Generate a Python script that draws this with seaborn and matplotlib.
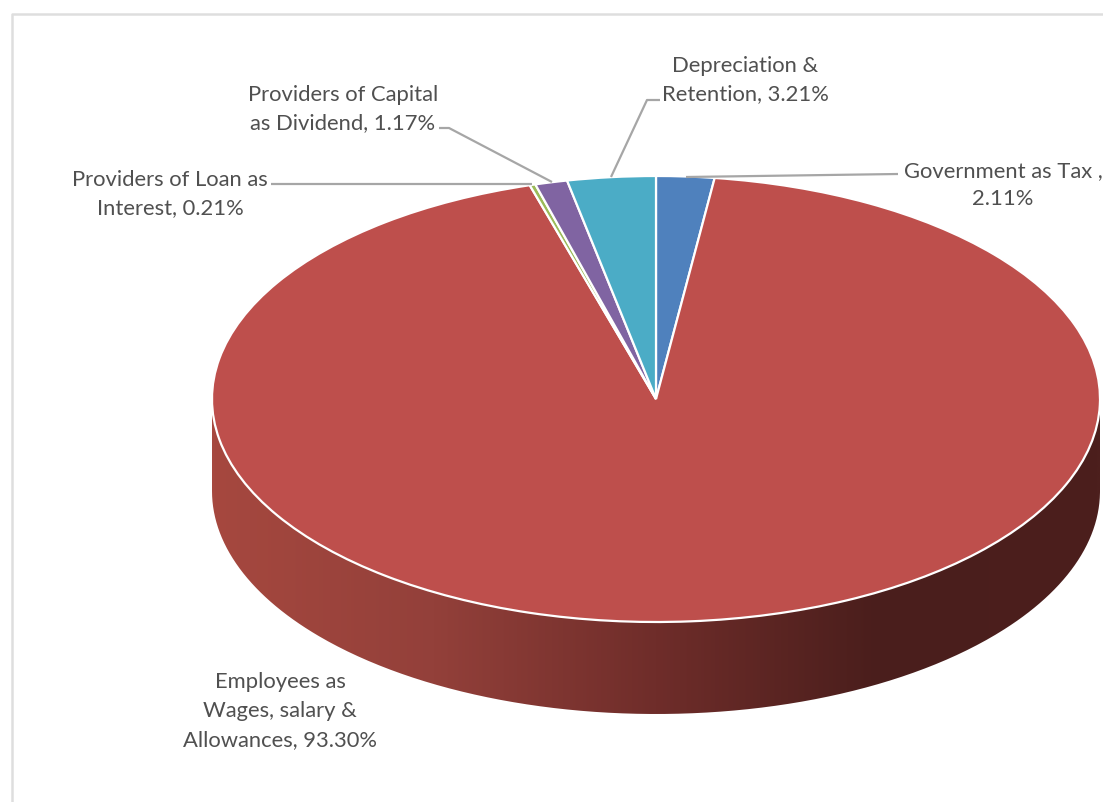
import numpy as np
import matplotlib
matplotlib.use("Agg")
import matplotlib.pyplot as plt
from matplotlib.patches import PathPatch
from matplotlib.path import Path
from matplotlib.lines import Line2D
import seaborn as sns

# ---- data ----
categories = ["Government as Tax", "Employees as Wages, salary & Allowances",
              "Providers of Loan as Interest", "Providers of Capital as Dividend",
              "Depreciation & Retention"]
shares = [2.11, 93.30, 0.21, 1.17, 3.21]
label_texts = ["Government as Tax ,\n2.11%", "Employees as\nWages, salary &\nAllowances, 93.30%",
               "Providers of Loan as\nInterest, 0.21%", "Providers of Capital\nas Dividend, 1.17%",
               "Depreciation &\nRetention, 3.21%"]
slice_colors = ["#4F81BD", "#BE4F4C", "#9BBB59", "#8064A2", "#4BACC6"]
side_colors = ["#A6483F", "#93403A", "#6F2D2A", "#4A1E1C", "#4C1F1D"]

# ---- layout (pixels of the 1103x803 canvas) ----
W, H = 1103, 803
CX, CY, RX, RY, DEPTH = 656, 400, 444, 223, 92
label_centres = [(1003, 185), (280, 711), (170, 194), (343, 109), (745, 80)]
leaders = [
    [(898, 175), (686, 178)],
    None,
    [(271, 185), (532, 185)],
    [(439, 129), (449, 129), (552, 183)],
    [(660, 101), (647, 101), (611, 178)],
]

sns.set_theme(style="white")
plt.rcParams["font.family"] = ["Lato", "DejaVu Sans"]

def to_data(x, y):
    return (x - CX) / RX, (CY - y) / RY

fig = plt.figure(figsize=(W / 100, H / 100), dpi=100, facecolor="white")
ax = fig.add_axes([0, 0, 1, 1])

ax.pie(shares, colors=sns.color_palette(slice_colors), startangle=90, counterclock=False,
       wedgeprops=dict(edgecolor="white", linewidth=1.6, zorder=3))
ax.set_aspect("auto")

# extruded side of the disc with its left-to-right shading
t = np.linspace(np.pi, 2 * np.pi, 400)
d = DEPTH / RY
upper = np.column_stack([np.cos(t), np.sin(t)])
lower = np.column_stack([np.cos(t), np.sin(t) - d])
outline = np.vstack([lower, upper[::-1], lower[:1]])
clip = PathPatch(Path(outline), transform=ax.transData, facecolor="none", edgecolor="none")
ax.add_patch(clip)
cmap = sns.blend_palette(side_colors, as_cmap=True)
img = ax.imshow(np.linspace(0, 1, 512)[None, :], cmap=cmap, aspect="auto",
                extent=(-1, 1, -1 - d, 0), zorder=1)
img.set_clip_path(clip)

ax.set_xlim(to_data(0, 0)[0], to_data(W, 0)[0])
ax.set_ylim(to_data(0, H)[1], to_data(0, 0)[1])
ax.axis("off")

for text, (x, y), leader in zip(label_texts, label_centres, leaders):
    dx, dy = to_data(x, y)
    ax.text(dx, dy, text, ha="center", va="center", fontsize=15.8, color="#505050",
            linespacing=1.54, zorder=6, clip_on=False)
    if leader:
        pts = np.array([to_data(*p) for p in leader])
        ax.plot(pts[:, 0], pts[:, 1], color="#A6A6A6", lw=1.6, zorder=5, solid_capstyle="butt")

# chart-area border that the screenshot cuts off on the right and at the bottom
fig.add_artist(Line2D([11.5 / W, 11.5 / W, 1], [0, 1 - 15 / H, 1 - 15 / H],
                      color="#DEDEDE", lw=1.8, transform=fig.transFigure))

fig.savefig("out.png", dpi=100, facecolor="white")
